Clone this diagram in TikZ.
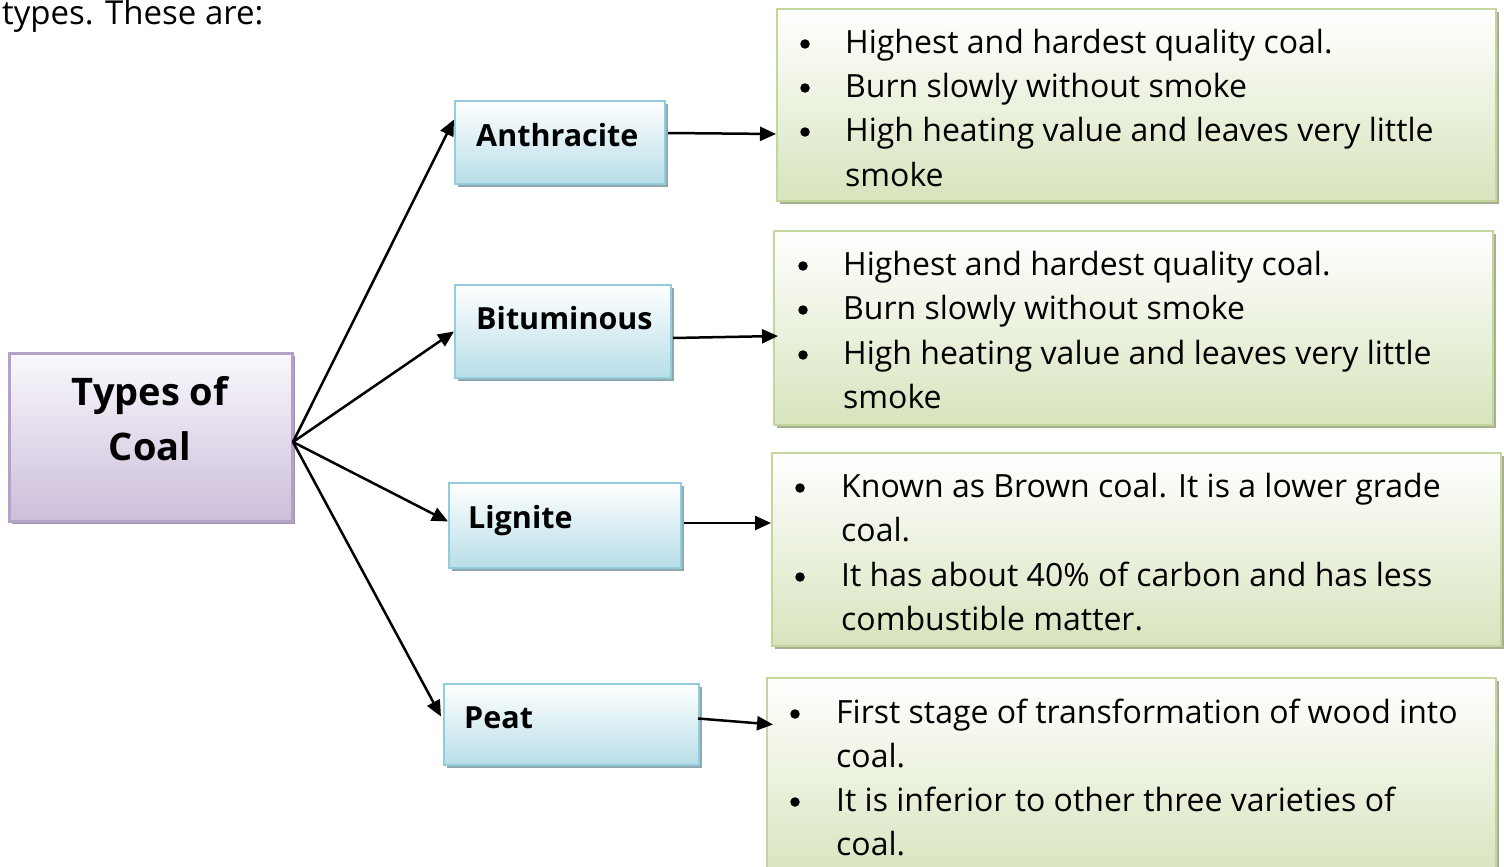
\documentclass[tikz,border=0pt]{standalone}
\usepackage{fontspec}
\setmainfont{Open Sans}
\usetikzlibrary{arrows.meta,shadows}
\definecolor{pbord}{HTML}{B3A2C7}
\definecolor{ptop}{HTML}{FAF8FC}
\definecolor{pbot}{HTML}{CBBEDA}
\definecolor{pshad}{HTML}{A094AE}
\definecolor{bbord}{HTML}{93CDDD}
\definecolor{bbot}{HTML}{B7DEE8}
\definecolor{bshad}{HTML}{8FA8AD}
\definecolor{gbord}{HTML}{C3D69B}
\definecolor{gbot}{HTML}{D7E4BD}
\definecolor{gshad}{HTML}{A8AF93}
\tikzset{
  box/.style={rectangle, anchor=north west, inner sep=0pt, line width=2pt},
  purplebox/.style={box, draw=pbord, line width=2.5pt, top color=ptop, bottom color=pbot,
    drop shadow={shadow xshift=3pt, shadow yshift=-3pt, fill=pshad, opacity=1}},
  bluebox/.style={box, draw=bbord, top color=white, bottom color=bbot,
    drop shadow={shadow xshift=3pt, shadow yshift=-3pt, fill=bshad, opacity=1}},
  greenbox/.style={box, draw=gbord, top color=white, bottom color=gbot,
    drop shadow={shadow xshift=3pt, shadow yshift=-3pt, fill=gshad, opacity=1}},
  txt/.style={inner sep=0pt, anchor=base west, font=\fontsize{32}{36}\selectfont},
  lbl/.style={inner sep=0pt, anchor=base west, font=\fontsize{30.5}{34}\selectfont\bfseries},
  big/.style={inner sep=0pt, anchor=base, font=\fontsize{38}{42}\selectfont\bfseries},
  dot/.style={circle, fill=black, inner sep=0pt, minimum size=9.5pt},
  arr/.style={line width=2.5pt, -{Triangle[length=16pt,width=14pt]}},
}
\newcommand\mybline[5]{%
  \node[dot] (#1b) at (#2,#4-9) {};
  \node[txt] (#1) at (#3,#4) {#5};}
\newcommand\mycontline[4]{%
  \node[txt] (#1) at (#2,#3) {#4};}
\begin{document}
\begin{tikzpicture}[x=1pt,y=-1pt]
\useasboundingbox (0,0) rectangle (1504,867);
\clip (0,0) rectangle (1504,867);

\node[txt, font=\fontsize{33}{36}\selectfont] (intro) at (2,25) {types. These are:};

% boxes
\node[purplebox, minimum width=283pt, minimum height=168pt] (coal) at (8,352) {};
\node[bluebox, minimum width=210pt, minimum height=83pt] (anth) at (454,100) {};
\node[bluebox, minimum width=216pt, minimum height=93pt] (bitu) at (454,284) {};
\node[bluebox, minimum width=232pt, minimum height=85pt] (lign) at (448,482) {};
\node[bluebox, minimum width=255pt, minimum height=81pt] (peat) at (443,683) {};
\node[greenbox, minimum width=719pt, minimum height=192pt] (g1) at (776,8) {};
\node[greenbox, minimum width=719pt, minimum height=194pt] (g2) at (773,230) {};
\node[greenbox, minimum width=729pt, minimum height=193pt] (g3) at (771,452) {};
\node[greenbox, minimum width=729pt, minimum height=200pt] (g4) at (766,677) {};

% labels
\node[big] (coal1) at (150,405) {Types of};
\node[big] (coal2) at (150,460) {Coal};
\node[lbl] (anthl) at (476,146) {Anthracite};
\node[lbl] (bitul) at (476,329) {Bituminous};
\node[lbl] (lignl) at (468,528) {Lignite};
\node[lbl] (peatl) at (464,728) {Peat};

% box texts
\mybline{a1}{805}{845}{53}{Highest and hardest quality coal.}
\mybline{a2}{805}{845}{97}{Burn slowly without smoke}
\mybline{a3}{805}{845}{141}{High heating value and leaves very little}
\mycontline{a4}{845}{186}{smoke}

\mybline{b1}{803}{843}{275}{Highest and hardest quality coal.}
\mybline{b2}{803}{843}{319}{Burn slowly without smoke}
\mybline{b3}{803}{843}{364}{High heating value and leaves very little}
\mycontline{b4}{843}{408}{smoke}

\mybline{c1}{800}{841}{497}{Known as Brown coal. It is a lower grade}
\mycontline{c2}{841}{541}{coal.}
\mybline{c3}{800}{841}{586}{It has about 40\% of carbon and has less}
\mycontline{c4}{841}{630}{combustible matter.}

\mybline{d1}{795}{836}{723}{First stage of transformation of wood into}
\mycontline{d2}{836}{767}{coal.}
\mybline{d3}{795}{836}{811}{It is inferior to other three varieties of}
\mycontline{d4}{836}{855}{coal.}

% connectors
\coordinate (o) at (293,442);
\draw[arr] (o) -- ([yshift=23pt]anth.west);
\draw[arr] (o) -- ([yshift=0pt]bitu.west);
\draw[arr] (o) -- ([yshift=4pt]lign.west);
\draw[arr] (o) -- ([yshift=8pt,xshift=-2pt]peat.west);

\draw[arr] ([yshift=9.5pt,xshift=2pt]anth.east) -- ([yshift=-29pt]g1.west);
\draw[arr] ([yshift=-6.5pt,xshift=1pt]bitu.east) -- ([yshift=-8pt,xshift=5pt]g2.west);
\draw[arr] ([yshift=2.5pt,xshift=2pt]lign.east) -- ([yshift=26.5pt]g3.west);
\draw[arr] ([yshift=6pt,xshift=-2pt]peat.east) -- ([yshift=53.5pt,xshift=7pt]g4.west);
\end{tikzpicture}
\end{document}
